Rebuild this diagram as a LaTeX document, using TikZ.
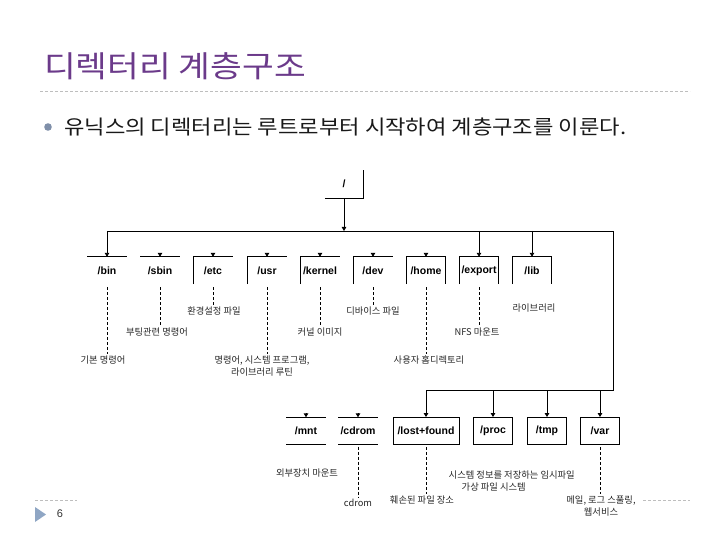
\documentclass[tikz,border=0pt]{standalone}
\usepackage{fontspec}
\setmainfont{Liberation Sans}
\newfontfamily\kr{Noto Sans CJK KR}
\usetikzlibrary{arrows.meta,calc}
\definecolor{titlepurple}{RGB}{107,58,138}
\definecolor{bulletgrey}{RGB}{127,143,169}
\definecolor{rulegrey}{RGB}{190,190,190}
\definecolor{tri}{RGB}{143,166,196}
\begin{document}
\begin{tikzpicture}[x=1pt,y=-1pt,
  dirbox/.style={font=\bfseries\fontsize{10.5}{12}\selectfont, minimum width=39pt, minimum height=27pt, inner sep=0pt},
  notetext/.style={font=\kr\fontsize{9.3}{11.5}\selectfont, inner sep=1.5pt, align=center, text=black!85},
  arr/.style={-{Triangle[length=4pt,width=4.5pt]}, line width=0.9pt},
  boxline/.style={line width=0.9pt},
  notedash/.style={dash pattern=on 3pt off 2pt, line width=0.7pt},
  rulerline/.style={rulegrey, dash pattern=on 3pt off 2pt, line width=0.8pt}]
\useasboundingbox (0,0) rectangle (720,540);
% title and rule
\node[anchor=west, inner sep=0pt, text=titlepurple, font=\kr\fontsize{30}{34}\selectfont] (title) at (44,66) {\scalebox{1.15}[1]{디렉터리 계층구조}};
\draw[rulerline] (40,91) -- (690,91);
% bullet
\fill[bulletgrey] (48,127) circle (3.8);
\node[anchor=west, inner sep=0pt, text=black!90, font=\kr\fontsize{20}{24}\selectfont] (intro) at (64,127) {\scalebox{1.11}[1]{유닉스의 디렉터리는 루트로부터 시작하여 계층구조를 이룬다.}};
% root
\node[dirbox, minimum width=38pt, minimum height=28pt] (root) at (344,184) {/};
\draw[boxline] (root.south west) -- (root.south east) -- (root.north east);
% first row
\foreach \n/\t/\x in {bin/bin/107, sbin/sbin/160, etc/etc/213, usr/usr/267, kernel/kernel/320, dev/dev/373, home/home/426, export/export/479, lib/lib/532}
  \node[dirbox] (\n) at (\x,270.5) {/\t};
% box edges row 1
\draw[boxline] (bin.north west) -- (bin.north east);
\draw[boxline] (sbin.north west) -- (sbin.north east);
\foreach \n in {etc,usr,kernel,dev}
  \draw[boxline] (\n.south west) -- (\n.north west) -- (\n.north east);
\foreach \n in {home,export,lib}
  \draw[boxline] (\n.south west) -- (\n.north west) -- (\n.north east) -- (\n.south east);
% second row
\node[dirbox] (mnt) at (306,431) {/mnt};
\node[dirbox] (cdrom) at (358,431) {/cdrom};
\node[dirbox, draw, line width=0.9pt, minimum width=66pt] (lost) at (426,431) {/lost+found};
\node[dirbox, draw, line width=0.9pt] (proc) at (493,431) {/proc};
\node[dirbox, draw, line width=0.9pt] (tmp) at (547,431) {/tmp};
\node[dirbox, draw, line width=0.9pt] (var) at (600,431) {/var};
\foreach \n in {mnt,cdrom}{
  \draw[boxline] (\n.north west) -- (\n.north east);
  \draw[boxline] (\n.south west) -- (\n.south east);}
% buses
\coordinate (busL) at (107,231);
\coordinate (busR) at (613,231);
\coordinate (bus2R) at (613,390);
\coordinate (bus2L) at (426,390);
\draw[boxline] (busL) -- (busR) -- (bus2R) -- (bus2L);
\draw[arr] (root.south) -- (root.south |- busL);
\draw[arr] (busL) -- (bin.north);
\draw[arr] (export |- busL) -- (export.north);
\draw[arr] (lib |- busL) -- (lib.north);
\foreach \n in {lost,proc,tmp,var}
  \draw[arr] (\n |- bus2L) -- (\n.north);
\foreach \n in {sbin,etc,usr,kernel,dev,home,mnt,cdrom}
  \draw[arr] ([yshift=4pt]\n.north) -- (\n.north);
% notes
\node[notetext] (lbin) at (103,360) {기본 명령어};
\node[notetext] (lsbin) at (157,332) {부팅관련 명령어};
\node[notetext] (letc) at (214,311) {환경설정 파일};
\node[notetext] (lusr) at (262,366) {명령어, 시스템 프로그램,\\라이브러리 루틴};
\node[notetext] (lkernel) at (320,332) {커널 이미지};
\node[notetext] (ldev) at (373,311) {디바이스 파일};
\node[notetext] (lhome) at (429,360) {사용자 홈디렉토리};
\node[notetext] (lexport) at (477,332) {NFS 마운트};
\node[notetext] (llib) at (534,308) {라이브러리};
\node[notetext] (lmnt) at (307,473) {외부장치 마운트};
\node[notetext] (lcdrom) at (358,503) {cdrom};
\node[notetext] (llost) at (422,500) {훼손된 파일 장소};
\node[notetext, align=left, anchor=west] (lproc) at (447,481) {시스템 정보를 저장하는 임시파일\\\hspace*{13pt}가상 파일 시스템};
\node[notetext] (lvar) at (601,506) {메일, 로그 스풀링,\\웹서비스};
% dashed leaders
\draw[notedash] ([yshift=-3pt]bin.south) -- (bin |- lbin.north);
\draw[notedash] ([yshift=-3pt]sbin.south) -- (sbin |- lsbin.north);
\draw[notedash] ([yshift=-3pt]etc.south) -- (etc |- letc.north);
\draw[notedash] ([yshift=-3pt]usr.south) -- (usr |- lusr.north);
\draw[notedash] ([yshift=-3pt]kernel.south) -- (kernel |- lkernel.north);
\draw[notedash] ([yshift=-3pt]dev.south) -- (dev |- ldev.north);
\draw[notedash] ([yshift=-3pt]home.south) -- (home |- lhome.north);
\draw[notedash] ([yshift=-3pt]export.south) -- (export |- lexport.north);
\draw[notedash] ([yshift=-2pt]cdrom.south) -- (cdrom |- lcdrom.north);
\draw[notedash] ([yshift=-2pt]lost.south) -- (lost |- llost.north);
\draw[notedash] ([yshift=-2pt]var.south) -- (var |- lvar.north);
% footer
\draw[rulerline] (35,500) -- (77,500);
\draw[rulerline] (643,500) -- (690,500);
\fill[tri] (35,507) -- (46,514.5) -- (35,522) -- cycle;
\node[inner sep=0pt, font=\fontsize{11}{13}\selectfont, text=black!80] (pagenum) at (60,514) {6};
\end{tikzpicture}
\end{document}
